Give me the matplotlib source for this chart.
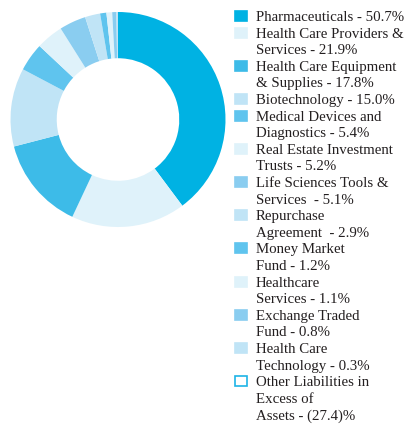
import matplotlib
matplotlib.use("Agg")
import matplotlib.pyplot as plt
from matplotlib.patches import Rectangle

labels = [
    "Pharmaceuticals - 50.7%",
    "Health Care Providers &\nServices - 21.9%",
    "Health Care Equipment\n& Supplies - 17.8%",
    "Biotechnology - 15.0%",
    "Medical Devices and\nDiagnostics - 5.4%",
    "Real Estate Investment\nTrusts - 5.2%",
    "Life Sciences Tools &\nServices  - 5.1%",
    "Repurchase\nAgreement  - 2.9%",
    "Money Market\nFund - 1.2%",
    "Healthcare\nServices - 1.1%",
    "Exchange Traded\nFund - 0.8%",
    "Health Care\nTechnology - 0.3%",
    "Other Liabilities in\nExcess of\nAssets - (27.4)%",
]
values = [50.7, 21.9, 17.8, 15.0, 5.4, 5.2, 5.1, 2.9, 1.2, 1.1, 0.8, 0.3, -27.4]
colors = ["#00b2e3", "#dff2fa", "#3dbbe8", "#c0e4f6", "#5fc4ee", "#dff2fa",
          "#8acdf0", "#c0e4f6", "#5fc4ee", "#dff2fa", "#8acdf0", "#c0e4f6", "#ffffff"]

W, H = 412, 424
fig = plt.figure(figsize=(W / 100, H / 100), dpi=100)

# donut (negative slice is not drawn)
pos_vals = [v for v in values if v > 0]
pos_cols = [c for v, c in zip(values, colors) if v > 0]
cx, cy, r = 118, 119.5, 107.5
ax = fig.add_axes([(cx - r) / W, (H - cy - r) / H, 2 * r / W, 2 * r / H])
ax.pie(pos_vals, colors=pos_cols, startangle=90, counterclock=False,
       radius=1, wedgeprops=dict(width=0.43, linewidth=0))
ax.set_xlim(-1, 1)
ax.set_ylim(-1, 1)
ax.axis("off")

# legend drawn by hand so swatches line up with the first line
font = dict(family="Liberation Serif", size=10.7, color="#231f20")
line_h = 16.6
y = 16
for lab, col in zip(labels, colors):
    edge = "#1eb4e6" if col == "#ffffff" else col
    fig.patches.append(Rectangle((235 / W, 1 - (y + 5) / H), 12 / W, 10 / H,
                                 transform=fig.transFigure, facecolor=col,
                                 edgecolor=edge, linewidth=1.2))
    for line in lab.split("\n"):
        fig.text(256 / W, 1 - y / H, line, va="center_baseline", ha="left", **font)
        y += line_h

fig.savefig("out.png", dpi=100)
